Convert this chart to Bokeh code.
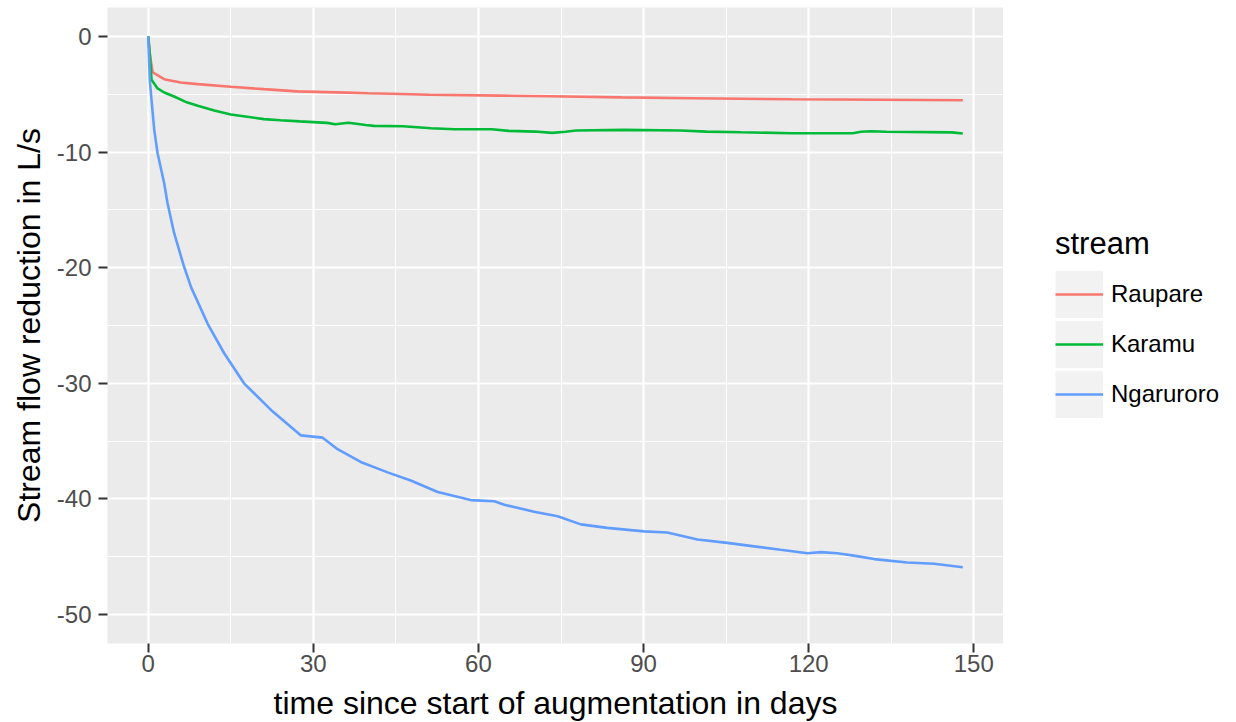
from bokeh.plotting import figure
from bokeh.layouts import row
from bokeh.models import Range1d, FixedTicker, Legend, LegendItem, PrintfTickFormatter
from bokeh.embed import file_html
from bokeh.resources import INLINE

# ---- data ----
raupare_t = [0, 0.3, 0.8, 2.9, 5.9, 9, 15, 21, 27, 36, 40, 46, 51, 64, 73, 86, 99, 117, 141, 148]
raupare_v = [0, -1.6, -3.1, -3.7, -3.98, -4.13, -4.36, -4.56, -4.75, -4.86, -4.92, -4.98, -5.04,
             -5.12, -5.18, -5.27, -5.35, -5.44, -5.5, -5.52]

karamu_t = [0, 0.3, 0.6, 1.7, 2.9, 4.7, 7, 9, 12, 15, 18, 21, 24, 27.5, 32.5, 34, 36.4, 39.5, 41, 46.3,
            51.4, 55.7, 62.4, 65.5, 70.3, 73.4, 75.8, 77.7, 86.4, 96.7, 101.4, 107.7, 117, 128, 129.5,
            131.3, 134.1, 146, 148]
karamu_v = [0, -1.6, -3.75, -4.5, -4.85, -5.2, -5.7, -6.0, -6.4, -6.75, -6.95, -7.15, -7.25, -7.35,
            -7.48, -7.6, -7.46, -7.66, -7.74, -7.77, -7.94, -8.03, -8.03, -8.17, -8.23, -8.34, -8.25,
            -8.14, -8.08, -8.14, -8.23, -8.29, -8.37, -8.37, -8.25, -8.2, -8.25, -8.3, -8.4]

ngaruroro_t = [0, 0.3, 0.6, 1.1, 1.7, 2.9, 3.5, 4.7, 6.5, 7.8, 10.8, 13.8, 17.4, 22.3, 27.7, 31.7, 34.4,
               38.6, 43.5, 47.7, 52.6, 58.6, 62.9, 64.7, 70.1, 74.4, 78.6, 83.4, 90.1, 94.3, 99.8, 105.2,
               110.1, 114.9, 119.8, 122.2, 125.2, 128.2, 131.9, 137.9, 142.8, 148]
ngaruroro_v = [0, -3.9, -5.5, -8.1, -10.1, -12.7, -14.4, -17.0, -19.9, -21.7, -24.85, -27.4, -30.0,
               -32.3, -34.5, -34.7, -35.7, -36.8, -37.7, -38.4, -39.4, -40.1, -40.2, -40.5, -41.1,
               -41.5, -42.2, -42.5, -42.8, -42.9, -43.5, -43.8, -44.1, -44.4, -44.7, -44.6, -44.7,
               -44.9, -45.2, -45.5, -45.6, -45.9]

stream_names = ["Raupare", "Karamu", "Ngaruroro"]
stream_colors = ["#F8766D", "#00BA38", "#619CFF"]

x_ticks = [0, 30, 60, 90, 120, 150]
x_minor = [15, 45, 75, 105, 135]
y_ticks = [-50, -40, -30, -20, -10, 0]
y_minor = [-45, -35, -25, -15, -5]

FONT = "Liberation Sans"
TOTAL_H = 720

# ---------------- main panel ----------------
p = figure(frame_width=896, frame_height=636, output_backend="svg", toolbar_location=None,
           x_range=Range1d(-7.4, 155.4), y_range=Range1d(-52.5, 2.5),
           min_border_left=107, min_border_right=0, min_border_top=7, min_border_bottom=0)

p.background_fill_color = "#EBEBEB"
p.border_fill_color = "white"
p.outline_line_color = None

for ax in (p.xaxis[0], p.yaxis[0]):
    ax.axis_line_color = None
    ax.major_tick_line_color = "#333333"
    ax.major_tick_line_width = 2
    ax.major_tick_out = 9
    ax.major_tick_in = 0
    ax.minor_tick_line_color = None
    ax.major_label_text_font = FONT
    ax.major_label_text_font_size = "24px"
    ax.major_label_text_color = "#4D4D4D"
    ax.axis_label_text_font = FONT
    ax.axis_label_text_font_size = "32px"
    ax.axis_label_text_font_style = "normal"
    ax.axis_label_text_color = "black"

p.xaxis[0].ticker = FixedTicker(ticks=x_ticks, minor_ticks=x_minor)
p.yaxis[0].ticker = FixedTicker(ticks=y_ticks, minor_ticks=y_minor)
p.xaxis[0].formatter = PrintfTickFormatter(format="%d")
p.yaxis[0].formatter = PrintfTickFormatter(format="%d")
p.xaxis[0].axis_label = "time since start of augmentation in days"
p.yaxis[0].axis_label = "Stream flow reduction in L/s"
p.xaxis[0].major_label_standoff = 2
p.xaxis[0].axis_label_standoff = 10
p.yaxis[0].major_label_standoff = 7
p.yaxis[0].axis_label_standoff = 7

for g in (p.xgrid[0], p.ygrid[0]):
    g.grid_line_color = "white"
    g.grid_line_width = 2.2
    g.minor_grid_line_color = "white"
    g.minor_grid_line_width = 1.1

series = [(raupare_t, raupare_v), (karamu_t, karamu_v), (ngaruroro_t, ngaruroro_v)]
for (t, v), col in zip(series, stream_colors):
    p.line(x=t, y=v, line_color=col, line_width=2.6)

# ---------------- legend column ----------------
lg = figure(width=225, height=TOTAL_H, output_backend="svg", toolbar_location=None,
            x_range=Range1d(0, 1), y_range=Range1d(0, 1),
            x_axis_location=None, y_axis_location=None,
            min_border=0, min_border_left=0, min_border_right=0, min_border_top=0, min_border_bottom=0)
lg.grid.visible = False
lg.outline_line_color = None
lg.background_fill_color = "white"
lg.border_fill_color = "white"

# key background and key lines (data placed outside the visible range, shown only in the legend)
key_bg = lg.line(x=[-10, -9], y=[-10, -10], line_width=47, line_color="#F2F2F2", line_cap="butt")
items = []
for name, col in zip(stream_names, stream_colors):
    r = lg.line(x=[-10, -9], y=[-10, -10], line_color=col, line_width=2.6)
    items.append(LegendItem(label=name, renderers=[key_bg, r]))

legend = Legend(items=items, title="stream", location=(52, 221),
                title_text_font=FONT, title_text_font_size="31px", title_text_color="black",
                title_text_font_style="normal", title_standoff=7,
                label_text_font=FONT, label_text_font_size="24px", label_text_color="black",
                label_standoff=8, glyph_width=48, glyph_height=50, spacing=0,
                padding=0, margin=0, border_line_color=None, background_fill_alpha=0)
lg.add_layout(legend, "center")

layout = row(p, lg, spacing=0)
open("out.html", "w").write(file_html(layout, INLINE))
